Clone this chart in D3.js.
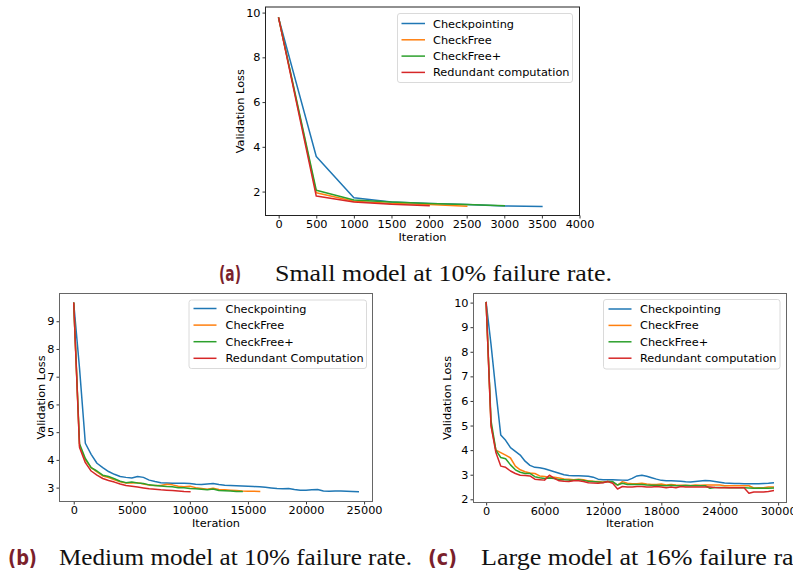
<!DOCTYPE html>
<html><head><meta charset="utf-8">
<script src="https://cdn.jsdelivr.net/npm/d3@7"></script>
<style>
html,body{margin:0;padding:0;background:#fff;overflow:hidden;}
svg{display:block;}
</style></head>
<body>
<svg id="fig" width="793" height="572"></svg>
<script>
// ---------- DATA ----------
const seriesNames = ["Checkpointing", "CheckFree", "CheckFree+", "Redundant computation"];
const seriesNamesMedium = ["Checkpointing", "CheckFree", "CheckFree+", "Redundant Computation"];
const seriesColors = ["#1f77b4", "#ff7f0e", "#2ca02c", "#d62728"];

// evaluation iterations (every 500 steps)
const iterations = [0,500,1000,1500,2000,2500,3000,3500,4000,4500,
  5000,5500,6000,6500,7000,7500,8000,8500,9000,9500,
  10000,10500,11000,11500,12000,12500,13000,13500,14000,14500,
  15000,15500,16000,16500,17000,17500,18000,18500,19000,19500,
  20000,20500,21000,21500,22000,22500,23000,23500,24000,24500,
  25000,25500,26000,26500,27000,27500,28000,28500,29000,29500];

// (a) small model
const smallCheckpointing = [9.75,3.57,1.72,1.53,1.47,1.42,1.36,1.33];
const smallCheckFree     = [9.75,1.95,1.57,1.47,1.42,1.34];
const smallCheckFreePlus = [9.75,2.06,1.62,1.53,1.47,1.42,1.37];
const smallRedundant     = [9.75,1.80,1.53,1.43,1.37];
const smallXTicks = [0,500,1000,1500,2000,2500,3000,3500,4000];
const smallYTicks = [2,4,6,8,10];

// (b) medium model
const mediumCheckpointing = [9.65,7.3,4.6,4.2,3.88,3.72,3.58,3.48,3.4,3.37,
  3.35,3.4,3.37,3.27,3.22,3.18,3.17,3.16,3.16,3.16,
  3.15,3.12,3.11,3.13,3.15,3.11,3.09,3.08,3.07,3.06,
  3.05,3.04,3.03,3.01,2.99,2.97,2.96,2.97,2.93,2.91,
  2.91,2.92,2.93,2.88,2.87,2.88,2.88,2.87,2.86,2.85];
const mediumCheckFree = [9.65,4.5,4.0,3.72,3.57,3.42,3.36,3.28,3.21,3.17,
  3.17,3.18,3.13,3.09,3.08,3.08,3.12,3.1,3.05,3.03,
  3.05,3.0,2.97,2.94,2.98,2.93,2.92,2.91,2.9,2.88,
  2.87,2.87,2.86];
const mediumCheckFreePlus = [9.65,4.58,4.05,3.72,3.6,3.45,3.4,3.32,3.23,3.18,
  3.2,3.17,3.15,3.1,3.08,3.06,3.04,3.03,3.0,3.0,
  2.97,2.96,2.94,2.92,2.95,2.9,2.89,2.88,2.86,2.86];
const mediumRedundant = [9.65,4.45,3.9,3.6,3.45,3.33,3.26,3.2,3.13,3.08,
  3.05,3.02,2.99,2.96,2.94,2.92,2.91,2.9,2.88,2.86,2.85];
const mediumXTicks = [0,5000,10000,15000,20000,25000];
const mediumYTicks = [3,4,5,6,7,8,9];

// (c) large model
const largeCheckpointing = [10,8.3,6.4,4.62,4.4,4.1,3.95,3.8,3.55,3.38,
  3.3,3.28,3.24,3.18,3.12,3.06,3.0,2.97,2.96,2.96,
  2.95,2.94,2.9,2.82,2.8,2.8,2.8,2.79,2.78,2.77,
  2.85,2.95,2.98,2.94,2.88,2.82,2.77,2.75,2.75,2.74,
  2.73,2.71,2.7,2.72,2.74,2.76,2.75,2.72,2.69,2.66,
  2.65,2.64,2.64,2.63,2.63,2.63,2.63,2.64,2.65,2.67];
const largeCheckFree = [10,5.0,4.0,3.9,3.8,3.68,3.35,3.2,3.12,3.07,
  3.05,2.95,2.93,2.9,2.9,2.87,2.83,2.82,2.8,2.82,
  2.8,2.75,2.73,2.72,2.7,2.72,2.7,2.58,2.72,2.65,
  2.63,2.63,2.65,2.62,2.6,2.6,2.62,2.58,2.6,2.58,
  2.57,2.57,2.56,2.58,2.57,2.58,2.58,2.58,2.58,2.55,
  2.55,2.55,2.55,2.55,2.55,2.46,2.47,2.47,2.5,2.5];
const largeCheckFreePlus = [10,5.2,4.0,3.7,3.65,3.4,3.2,3.1,3.05,3.05,
  2.92,2.88,2.85,2.87,2.85,2.8,2.8,2.78,2.78,2.8,
  2.77,2.73,2.72,2.7,2.68,2.72,2.72,2.58,2.65,2.6,
  2.6,2.6,2.6,2.58,2.57,2.57,2.56,2.55,2.57,2.55,
  2.55,2.56,2.55,2.55,2.55,2.55,2.45,2.48,2.48,2.48,
  2.47,2.47,2.47,2.47,2.46,2.45,2.45,2.45,2.45,2.46];
const largeRedundant = [10,5.0,3.9,3.35,3.3,3.15,3.05,2.98,2.97,2.95,
  2.82,2.8,2.78,2.98,2.85,2.75,2.73,2.72,2.75,2.75,
  2.72,2.67,2.66,2.65,2.67,2.72,2.65,2.42,2.52,2.5,
  2.5,2.52,2.52,2.5,2.5,2.52,2.5,2.47,2.5,2.47,
  2.52,2.5,2.5,2.5,2.5,2.5,2.5,2.48,2.47,2.47,
  2.47,2.47,2.47,2.47,2.25,2.3,2.3,2.3,2.32,2.35];
const largeXTicks = [0,6000,12000,18000,24000,30000];
const largeYTicks = [2,3,4,5,6,7,8,9,10];

const captionLabels = ["(a)", "(b)", "(c)"];
const captionTexts = ["Small model at 10% failure rate.", "Medium model at 10% failure rate.", "Large model at 16% failure rate."];

// ---------- DRAW ----------
const svg = d3.select("#fig");
const FONT = "'DejaVu Sans', sans-serif";
const FS = 11.3;

function drawChart(cfg) {
  const g = svg.append("g");
  const x = d3.scaleLinear().domain(cfg.xDomain).range([cfg.left, cfg.right]);
  const y = d3.scaleLinear().domain(cfg.yDomain).range([cfg.bottom, cfg.top]);

  const clipId = "clip" + cfg.id;
  svg.append("clipPath").attr("id", clipId).append("rect")
    .attr("x", cfg.left).attr("y", cfg.top)
    .attr("width", cfg.right - cfg.left).attr("height", cfg.bottom - cfg.top);

  const line = d3.line().x(d => x(d[0])).y(d => y(d[1]));
  const lg = g.append("g").attr("clip-path", `url(#${clipId})`);
  cfg.series.forEach((vals, i) => {
    const pts = vals.map((v, k) => [iterations[k], v]);
    lg.append("path").datum(pts)
      .attr("d", line).attr("fill", "none")
      .attr("stroke", seriesColors[i]).attr("stroke-width", 1.5)
      .attr("stroke-linejoin", "round").attr("stroke-linecap", "square");
  });

  // axes
  const xAxis = d3.axisBottom(x).tickValues(cfg.xTicks).tickSize(3).tickPadding(1.5).tickFormat(d3.format("d"));
  const yAxis = d3.axisLeft(y).tickValues(cfg.yTicks).tickSize(3).tickPadding(2).tickFormat(d3.format("d"));
  const gx = g.append("g").attr("transform", `translate(0,${cfg.bottom})`).call(xAxis);
  const gy = g.append("g").attr("transform", `translate(${cfg.left},0)`).call(yAxis);
  [gx, gy].forEach(a => {
    a.select(".domain").remove();
    a.selectAll("line").attr("stroke", "#000").attr("stroke-width", 0.8);
    a.selectAll("text").attr("font-family", FONT).attr("font-size", FS).attr("fill", "#000");
  });

  // frame
  g.append("rect").attr("x", cfg.left).attr("y", cfg.top)
    .attr("width", cfg.right - cfg.left).attr("height", cfg.bottom - cfg.top)
    .attr("fill", "none").attr("stroke", cfg.frameColor).attr("stroke-width", 1);

  // labels
  g.append("text").attr("x", (cfg.left + cfg.right) / 2).attr("y", cfg.xLabelY)
    .attr("text-anchor", "middle").attr("font-family", FONT).attr("font-size", FS)
    .text("Iteration");
  g.append("text").attr("transform", `translate(${cfg.yLabelX},${(cfg.top + cfg.bottom) / 2}) rotate(-90)`)
    .attr("text-anchor", "middle").attr("font-family", FONT).attr("font-size", FS)
    .text("Validation Loss");

  // legend
  const L = cfg.legend;
  g.append("rect").attr("x", L.x0).attr("y", L.y0).attr("width", L.x1 - L.x0).attr("height", L.y1 - L.y0)
    .attr("rx", 2.5).attr("fill", "#fff").attr("fill-opacity", 0.8)
    .attr("stroke", "#d0d0d0").attr("stroke-width", 0.8);
  cfg.names.forEach((n, i) => {
    const yy = L.rowY0 + i * L.rowStep;
    g.append("line").attr("x1", L.lineX0).attr("x2", L.lineX1).attr("y1", yy).attr("y2", yy)
      .attr("stroke", seriesColors[i]).attr("stroke-width", 1.5);
    g.append("text").attr("x", L.textX).attr("y", yy + 4)
      .attr("font-family", FONT).attr("font-size", FS).text(n);
  });
}

drawChart({
  id: "a", left: 265.5, right: 579.5, top: 7, bottom: 215.5,
  xDomain: [-175, 4000], yDomain: [0.93, 10.25],
  xTicks: smallXTicks, yTicks: smallYTicks, frameColor: "#222",
  series: [smallCheckpointing, smallCheckFree, smallCheckFreePlus, smallRedundant],
  names: seriesNames, xLabelY: 241, yLabelX: 244,
  legend: {x0: 397.5, x1: 572.5, y0: 13.5, y1: 82.5, rowY0: 23.5, rowStep: 16.3, lineX0: 401.5, lineX1: 425, textX: 433}
});

drawChart({
  id: "b", left: 59.5, right: 372.5, top: 293.5, bottom: 501.5,
  xDomain: [-1225, 25725], yDomain: [2.5, 10.0],
  xTicks: mediumXTicks, yTicks: mediumYTicks, frameColor: "#666",
  series: [mediumCheckpointing, mediumCheckFree, mediumCheckFreePlus, mediumRedundant],
  names: seriesNamesMedium, xLabelY: 527, yLabelX: 45,
  legend: {x0: 189, x1: 366.5, y0: 300, y1: 368.5, rowY0: 308.5, rowStep: 16.6, lineX0: 193.5, lineX1: 216.5, textX: 225.5}
});

drawChart({
  id: "c", left: 473.5, right: 786.5, top: 293.5, bottom: 502.5,
  xDomain: [-1300, 30860], yDomain: [1.87, 10.37],
  xTicks: largeXTicks, yTicks: largeYTicks, frameColor: "#666",
  series: [largeCheckpointing, largeCheckFree, largeCheckFreePlus, largeRedundant],
  names: seriesNames, xLabelY: 527, yLabelX: 450.5,
  legend: {x0: 603.5, x1: 780, y0: 299.5, y1: 369, rowY0: 309, rowStep: 16.4, lineX0: 608.5, lineX1: 631.5, textX: 640}
});

// captions
const capPos = [
  {lx: 219, lw: 22, tx: 275, tw: 337, y: 281},
  {lx: 8, lw: 29, tx: 59, tw: 353, y: 565},
  {lx: 428, lw: 29, tx: 481, tw: 338, y: 565}
];
capPos.forEach((p, i) => {
  svg.append("text").attr("x", p.lx).attr("y", p.y)
    .attr("font-family", "'DejaVu Sans Condensed', 'Liberation Sans Narrow', 'Noto Sans', sans-serif")
    .attr("font-weight", "bold").attr("font-size", 21).attr("fill", "#7a1f2c")
    .attr("textLength", p.lw).attr("lengthAdjust", "spacingAndGlyphs")
    .text(captionLabels[i]);
  svg.append("text").attr("x", p.tx).attr("y", p.y)
    .attr("font-family", "'Liberation Serif', 'DejaVu Serif', serif")
    .attr("font-size", 23).attr("fill", "#111")
    .attr("textLength", p.tw).attr("lengthAdjust", "spacingAndGlyphs")
    .text(captionTexts[i]);
});
</script>
</body></html>
